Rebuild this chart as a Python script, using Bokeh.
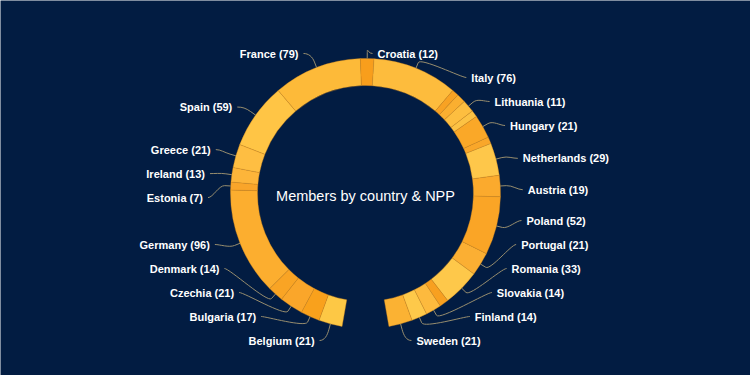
import math
import re
from bokeh.plotting import figure
from bokeh.models import Range1d, ColumnDataSource
from bokeh.embed import file_html
from bokeh.resources import INLINE
from bokeh.core.properties import value

# ---------------- data ----------------
countries = ["Belgium", "Bulgaria", "Czechia", "Denmark", "Germany", "Estonia",
             "Ireland", "Greece", "Spain", "France", "Croatia", "Italy", "Cyprus",
             "Latvia", "Lithuania", "Luxembourg", "Hungary", "Malta", "Netherlands",
             "Austria", "Poland", "Portugal", "Romania", "Slovenia", "Slovakia",
             "Finland", "Sweden"]
members = [21, 17, 21, 14, 96, 7, 13, 21, 59, 79, 12, 76, 6, 8, 11, 6, 21, 6,
           29, 19, 52, 21, 33, 8, 14, 14, 21]
label_shown = [1, 1, 1, 1, 1, 1, 1, 1, 1, 1, 1, 1, 0, 0, 1, 0, 1, 0,
               1, 1, 1, 1, 1, 0, 1, 1, 1]
slice_colors = ["#FDC845", "#F9A11C", "#FAA62A", "#F9A424", "#FCAE2F", "#F9A52A",
                "#FDB53A", "#FEBE42", "#FFC545", "#FDBA39", "#F89E1C", "#FDBC3D",
                "#F8A223", "#FAAF30", "#FDBE40", "#FCC244", "#FAA828", "#F9A72A",
                "#FEC74A", "#FBAA2D", "#FAA526", "#FBAF33", "#FEC84A", "#F8A020",
                "#FDBA3E", "#FEC94A", "#FBB233"]
center_title = "Members by country & NPP"

# ---------------- layout constants ----------------
BG = "#021c42"
PAGE_W, PAGE_H = 750, 375
W, H = 750, 375
CX, CY = 365.0, 193.0          # ring centre (page pixels, y down)
R_OUT, R_IN = 135.0, 108.0
START_DEG, SWEEP_DEG = 10.0, 340.0
LABEL_R = 157.5
LABEL_DY = 5.0
SPACING = 24.0
TOP, BOTTOM = 53.0, 340.0
BREAK_OFF = 6.0
LINE_COLOR = "#978d6e"


def to_data_y(y_img):
    return PAGE_H - y_img


p = figure(width=W, height=H, x_range=Range1d(0, W), y_range=Range1d(PAGE_H - H, PAGE_H),
           output_backend="svg", toolbar_location=None, min_border=0,
           x_axis_location=None, y_axis_location=None)
p.grid.visible = False
p.outline_line_color = None
p.background_fill_color = BG
p.border_fill_color = BG

total = float(sum(members))
starts, ends, mids = [], [], []
cum = 0.0
for m in members:
    t1 = START_DEG + cum / total * SWEEP_DEG
    t2 = START_DEG + (cum + m) / total * SWEEP_DEG
    starts.append(math.radians(-90.0 - t2))
    ends.append(math.radians(-90.0 - t1))
    mids.append((t1 + t2) / 2.0)
    cum += m

ring = ColumnDataSource(dict(x=[CX] * len(members), y=[to_data_y(CY)] * len(members),
                             s=starts, e=ends, c=slice_colors))
p.annular_wedge(x="x", y="y", inner_radius=R_IN, outer_radius=R_OUT,
                start_angle="s", end_angle="e", direction="anticlock",
                fill_color="c", line_color="#d88c1c", line_width=0.7, line_alpha=0.55,
                source=ring)


def ring_pt(theta_deg, r):
    t = math.radians(theta_deg)
    return CX - r * math.sin(t), CY + r * math.cos(t)


def distribute(targets):
    clusters = [[i] for i in range(len(targets))]

    def start(cl):
        c = sum(targets[i] - k * SPACING for k, i in enumerate(cl)) / len(cl)
        return max(TOP, min(c, BOTTOM - (len(cl) - 1) * SPACING))

    changed = True
    while changed:
        changed = False
        for j in range(1, len(clusters)):
            a, b = clusters[j - 1], clusters[j]
            if start(a) + len(a) * SPACING > start(b) + 1e-6:
                clusters[j - 1] = a + b
                del clusters[j]
                changed = True
                break
    pos = [0.0] * len(targets)
    for cl in clusters:
        c = start(cl)
        for k, i in enumerate(cl):
            pos[i] = c + k * SPACING
    return pos


def get_x(y_img, left, gap):
    dy = y_img - LABEL_DY - CY
    c = math.sqrt(max(0.0, LABEL_R ** 2 - dy ** 2))
    return CX - (c + gap) if left else CX + (c + gap)


lab = dict(x=[], y=[], t=[], align=[])
bz = dict(x0=[], y0=[], x1=[], y1=[], cx0=[], cy0=[], cx1=[], cy1=[])
sg = dict(x0=[], y0=[], x1=[], y1=[])

for left in (True, False):
    idx = [i for i in range(len(members)) if label_shown[i] and ((mids[i] < 180) == left)]
    nat = {i: CY + LABEL_R * math.cos(math.radians(mids[i])) + LABEL_DY for i in idx}
    idx.sort(key=lambda i: nat[i])
    pos = distribute([nat[i] for i in idx])
    for i, y in zip(idx, pos):
        edge = y <= TOP + 2 or y >= BOTTOM - 2
        tx = get_x(nat[i] if edge else y, left, 10.0 if edge else 5.0)
        d = -1 if left else 1
        lab["x"].append(tx)
        lab["y"].append(to_data_y(y))
        lab["t"].append(f"{countries[i]} ({members[i]})")
        lab["align"].append("right" if left else "left")
        lx, ly = tx - d * 5.0, y
        bxp, byp = ring_pt(mids[i], R_OUT + BREAK_OFF)
        txp, typ = ring_pt(mids[i], R_OUT)
        bz["x0"].append(lx); bz["y0"].append(to_data_y(ly))
        bz["x1"].append(bxp); bz["y1"].append(to_data_y(byp))
        bz["cx0"].append(lx - d * 5.0); bz["cy0"].append(to_data_y(ly))
        bz["cx1"].append(2 * bxp - txp); bz["cy1"].append(to_data_y(2 * byp - typ))
        sg["x0"].append(bxp); sg["y0"].append(to_data_y(byp))
        sg["x1"].append(txp); sg["y1"].append(to_data_y(typ))

p.bezier(x0="x0", y0="y0", x1="x1", y1="y1", cx0="cx0", cy0="cy0", cx1="cx1", cy1="cy1",
         line_color=LINE_COLOR, line_width=1, source=ColumnDataSource(bz))
p.segment(x0="x0", y0="y0", x1="x1", y1="y1", line_color=LINE_COLOR, line_width=1,
          source=ColumnDataSource(sg))

p.text(x="x", y="y", text="t", text_align="align", text_baseline="middle",
       text_color="#ffffff", text_font=value("Liberation Sans"), text_font_size="11px",
       text_font_style="bold", source=ColumnDataSource(lab))

p.text(x=[CX], y=[to_data_y(CY + 2)], text=[center_title], text_align="center",
       text_baseline="middle", text_color="#ffffff", text_font=value("Liberation Sans"),
       text_font_size="14.5px")

html = file_html(p, INLINE, title="Members by country & NPP")
html = re.sub(r"<body([^>]*)>", r'<body\1 style="background-color:%s;">' % BG, html, count=1)
open("out.html", "w").write(html)
